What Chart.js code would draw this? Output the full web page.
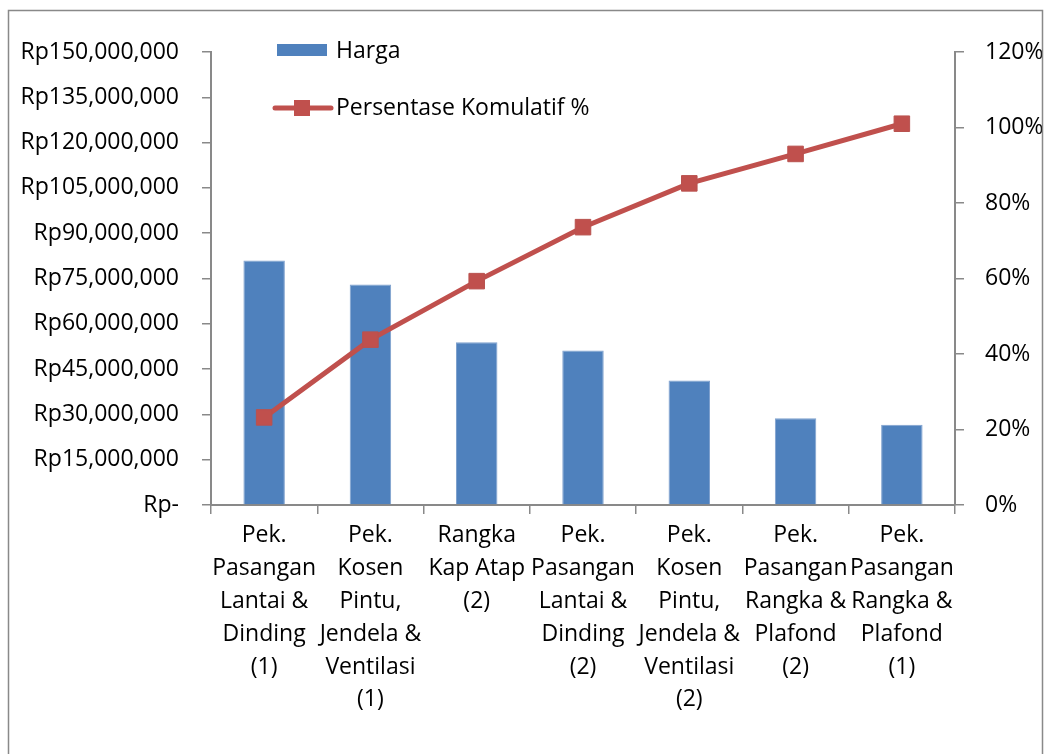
<!DOCTYPE html>
<html>
<head>
<meta charset="utf-8">
<script src="https://cdn.jsdelivr.net/npm/chart.js@4.4.1/dist/chart.umd.min.js"></script>
<style>
  html, body { margin: 0; padding: 0; background: #ffffff; }
  #wrap { position: relative; width: 1045px; height: 754px; }
  canvas { display: block; }
</style>
</head>
<body>
<div id="wrap"><canvas id="c" width="1045" height="754"></canvas></div>
<script>
// ---- Data ----
const categories = [
  ["Pek.", "Pasangan", "Lantai &", "Dinding", "(1)"],
  ["Pek.", "Kosen", "Pintu,", "Jendela &", "Ventilasi", "(1)"],
  ["Rangka", "Kap Atap", "(2)"],
  ["Pek.", "Pasangan", "Lantai &", "Dinding", "(2)"],
  ["Pek.", "Kosen", "Pintu,", "Jendela &", "Ventilasi", "(2)"],
  ["Pek.", "Pasangan", "Rangka &", "Plafond", "(2)"],
  ["Pek.", "Pasangan", "Rangka &", "Plafond", "(1)"]
];
const hargaLabel = "Harga";
const hargaValues = [81000000, 73000000, 53900000, 51200000, 41200000, 28700000, 26600000];
const kumulatifLabel = "Persentase Komulatif %";
const kumulatifValues = [23.2, 43.8, 59.3, 73.6, 85.2, 93.0, 101.0];
const leftTicks = [0, 15000000, 30000000, 45000000, 60000000, 75000000, 90000000, 105000000, 120000000, 135000000, 150000000];
const rightTicks = [0, 20, 40, 60, 80, 100, 120];

// ---- Styling ----
const FONT = "'Open Sans', 'DejaVu Sans', sans-serif";
const FS = 23;
const AXIS = '#898989';
const BLUE = '#4F81BD';
const RED = '#C0504D';

function fmtRp(v) {
  if (v === 0) return 'Rp-';
  return 'Rp' + Math.round(v).toString().replace(/\B(?=(\d{3})+(?!\d))/g, ',');
}

const frameAndLegend = {
  id: 'frameAndLegend',
  afterDraw(chart) {
    const ctx = chart.ctx;
    ctx.save();
    // outer frame
    ctx.strokeStyle = AXIS;
    ctx.lineWidth = 1.5;
    ctx.beginPath();
    ctx.moveTo(8.5, 760);
    ctx.lineTo(8.5, 10.5);
    ctx.lineTo(1042.5, 10.5);
    ctx.lineTo(1042.5, 760);
    ctx.stroke();

    ctx.font = FS + "px " + FONT;
    ctx.textBaseline = 'middle';
    ctx.textAlign = 'left';

    // legend: bar item
    ctx.fillStyle = BLUE;
    ctx.fillRect(277, 44, 50, 12);
    ctx.fillStyle = '#000';
    ctx.fillText(hargaLabel, 336, 51);

    // legend: line item
    ctx.strokeStyle = RED;
    ctx.lineWidth = 5;
    ctx.lineCap = 'round';
    ctx.beginPath();
    ctx.moveTo(275, 108);
    ctx.lineTo(331, 108);
    ctx.stroke();
    ctx.fillStyle = RED;
    ctx.fillRect(294, 100, 16, 16);
    ctx.fillStyle = '#000';
    ctx.fillText(kumulatifLabel, 336, 108);
    ctx.restore();
  }
};

new Chart(document.getElementById('c'), {
  type: 'bar',
  data: {
    labels: categories,
    datasets: [
      {
        type: 'line',
        label: kumulatifLabel,
        data: kumulatifValues,
        yAxisID: 'y1',
        borderColor: RED,
        borderWidth: 5,
        backgroundColor: RED,
        pointStyle: 'rect',
        pointRadius: 11,
        pointBorderWidth: 1,
        pointBorderColor: '#B9524F',
        pointBackgroundColor: RED,
        tension: 0,
        order: 0
      },
      {
        type: 'bar',
        label: hargaLabel,
        data: hargaValues,
        yAxisID: 'y',
        backgroundColor: BLUE,
        borderColor: '#7FA1CE',
        borderWidth: 1,
        borderSkipped: 'bottom',
        barPercentage: 0.39,
        categoryPercentage: 1.0,
        order: 1
      }
    ]
  },
  options: {
    responsive: false,
    animation: false,
    devicePixelRatio: 1,
    layout: { padding: { top: 52, left: 0, right: 0, bottom: 0 } },
    plugins: {
      legend: { display: false },
      tooltip: { enabled: false }
    },
    scales: {
      x: {
        offset: true,
        grid: {
          offset: true,
          drawOnChartArea: false,
          drawTicks: true,
          tickLength: 9,
          color: AXIS,
          lineWidth: 1.5
        },
        border: { display: true, color: AXIS, width: 2 },
        ticks: {
          autoSkip: false,
          maxRotation: 0,
          minRotation: 0,
          padding: 5,
          color: '#000',
          font: { family: FONT, size: FS, lineHeight: 1.43 }
        },
        afterFit(s) { s.height = 249; }
      },
      y: {
        position: 'left',
        min: 0,
        max: 150000000,
        afterBuildTicks(s) { s.ticks = leftTicks.map(v => ({ value: v })); },
        grid: {
          drawOnChartArea: false,
          drawTicks: true,
          tickLength: 9,
          color: AXIS,
          lineWidth: 1.5
        },
        border: { display: true, color: AXIS, width: 2 },
        ticks: {
          padding: 23,
          color: '#000',
          font: { family: FONT, size: FS },
          callback: v => fmtRp(v)
        },
        afterFit(s) { s.width = 211; }
      },
      y1: {
        position: 'right',
        min: 0,
        max: 120,
        afterBuildTicks(s) { s.ticks = rightTicks.map(v => ({ value: v })); },
        grid: {
          drawOnChartArea: false,
          drawTicks: true,
          tickLength: 9,
          color: AXIS,
          lineWidth: 1.5
        },
        border: { display: true, color: AXIS, width: 2 },
        ticks: {
          padding: 21,
          color: '#000',
          font: { family: FONT, size: FS },
          callback: v => v + '%'
        },
        afterFit(s) { s.width = 90; }
      }
    }
  },
  plugins: [frameAndLegend]
});
</script>
</body>
</html>
